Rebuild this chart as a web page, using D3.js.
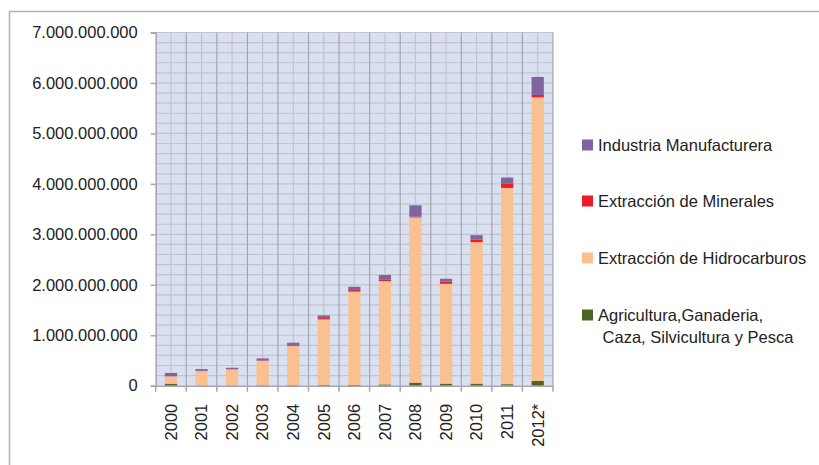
<!DOCTYPE html>
<html>
<head>
<meta charset="utf-8">
<script src="https://cdn.jsdelivr.net/npm/d3@7"></script>
<style>
    body { margin: 0; background: #fff; }
    text { font-family: "Liberation Sans", Arial, sans-serif; fill: #222; }
</style>
</head>
<body>
<div id="chart"></div>
<script>
// values in millions
var years = ["2000", "2001", "2002", "2003", "2004", "2005", "2006", "2007", "2008", "2009", "2010", "2011", "2012*"];
var agricultura   = [40, 5, 5, 8, 10, 15, 15, 25, 60, 40, 40, 30, 93];
var hidrocarburos = [145, 285, 320, 485, 775, 1300, 1850, 2050, 3275, 1980, 2805, 3890, 5623];
var minerales     = [3, 5, 5, 8, 15, 25, 30, 33, 15, 46, 53, 80, 46];
var manufacturera = [65, 35, 25, 40, 53, 53, 66, 86, 225, 53, 86, 125, 357];

var seriesKeys = ["agricultura", "hidrocarburos", "minerales", "manufacturera"];
var seriesColor = {
    agricultura: "#4f6228",
    hidrocarburos: "#fac090",
    minerales: "#ee1c25",
    manufacturera: "#8064a2"
};
var legendItems = [
    { key: "manufacturera", lines: ["Industria Manufacturera"] },
    { key: "minerales", lines: ["Extracción de Minerales"] },
    { key: "hidrocarburos", lines: ["Extracción de Hidrocarburos"] },
    { key: "agricultura", lines: ["Agricultura,Ganaderia,", " Caza, Silvicultura y Pesca"] }
];

var width = 819, height = 465;
var plotLeft = 155.7, plotRight = 553, plotTop = 32.5, plotBottom = 385.7;

var rows = years.map(function (y, i) {
    return {
        year: y,
        agricultura: agricultura[i] * 1e6,
        hidrocarburos: hidrocarburos[i] * 1e6,
        minerales: minerales[i] * 1e6,
        manufacturera: manufacturera[i] * 1e6
    };
});

var svg = d3.select("#chart").append("svg")
    .attr("width", width)
    .attr("height", height);

// outer frame
svg.append("path")
    .attr("d", "M9.5," + height + "V11.5H" + width)
    .attr("fill", "none")
    .attr("stroke", "#b4b4b4")
    .attr("stroke-width", 1.5);

var x = d3.scaleBand().domain(years).range([plotLeft, plotRight]).padding(0);
var y = d3.scaleLinear().domain([0, 7e9]).range([plotBottom, plotTop]);

var locale = d3.formatLocale({ decimal: ",", thousands: ".", grouping: [3], currency: ["", ""] });
var fmt = locale.format(",");

// plot background
svg.append("rect")
    .attr("x", plotLeft).attr("y", plotTop)
    .attr("width", plotRight - plotLeft).attr("height", plotBottom - plotTop)
    .attr("fill", "#d8e0f1");

// horizontal grid
svg.append("g").selectAll("line")
    .data(d3.range(2e8, 7e9 + 1, 2e8))
    .enter().append("line")
    .attr("x1", plotLeft).attr("x2", plotRight)
    .attr("y1", function (d) { return y(d); })
    .attr("y2", function (d) { return y(d); })
    .attr("stroke", "#c2c4cb")
    .attr("stroke-width", 1.2);

// minor vertical grid at category centers
svg.append("g").selectAll("line")
    .data(years)
    .enter().append("line")
    .attr("x1", function (d) { return x(d) + x.bandwidth() / 2; })
    .attr("x2", function (d) { return x(d) + x.bandwidth() / 2; })
    .attr("y1", plotTop).attr("y2", plotBottom)
    .attr("stroke", "#c2c4cb")
    .attr("stroke-width", 1.2);

// major vertical grid at category boundaries
svg.append("g").selectAll("line")
    .data(d3.range(1, years.length + 1))
    .enter().append("line")
    .attr("x1", function (d) { return plotLeft + x.step() * d; })
    .attr("x2", function (d) { return plotLeft + x.step() * d; })
    .attr("y1", plotTop).attr("y2", plotBottom)
    .attr("stroke", "#a4a6ae")
    .attr("stroke-width", 1.2);

// stacked bars
var stack = d3.stack().keys(seriesKeys);
var layers = stack(rows);
var barW = x.bandwidth() * 0.4;

svg.append("g").selectAll("g")
    .data(layers)
    .enter().append("g")
    .attr("fill", function (d) { return seriesColor[d.key]; })
    .selectAll("rect")
    .data(function (d) { return d; })
    .enter().append("rect")
    .attr("x", function (d) { return x(d.data.year) + (x.bandwidth() - barW) / 2; })
    .attr("width", barW)
    .attr("y", function (d) { return y(d[1]); })
    .attr("height", function (d) { return y(d[0]) - y(d[1]); });

// y axis
var yAxis = svg.append("g")
    .attr("transform", "translate(" + plotLeft + ",0)")
    .call(d3.axisLeft(y).tickValues(d3.range(0, 7e9 + 1, 1e9)).tickFormat(fmt).tickSize(5).tickPadding(13));
yAxis.select(".domain").attr("stroke", "#a4a6ae").attr("stroke-width", 1.5);
yAxis.selectAll(".tick line").attr("stroke", "#a4a6ae").attr("stroke-width", 1.5);
yAxis.selectAll("text").style("font-size", "16.5px").attr("fill", "#222");

// x axis
var xAxis = svg.append("g")
    .attr("transform", "translate(0," + plotBottom + ")")
    .call(d3.axisBottom(x).tickSize(0).tickPadding(0));
xAxis.select(".domain").attr("stroke", "#a4a6ae").attr("stroke-width", 1.5);
xAxis.selectAll("text")
    .style("font-size", "16.5px")
    .attr("fill", "#222")
    .attr("text-anchor", "end")
    .attr("transform", "translate(0,18) rotate(-90)")
    .attr("x", 0)
    .attr("dy", "0.35em")
    .attr("y", 0);

// boundary ticks below x axis
svg.append("g").selectAll("line")
    .data(d3.range(years.length + 1))
    .enter().append("line")
    .attr("x1", function (d) { return plotLeft + x.step() * d; })
    .attr("x2", function (d) { return plotLeft + x.step() * d; })
    .attr("y1", plotBottom).attr("y2", plotBottom + 6)
    .attr("stroke", "#a4a6ae")
    .attr("stroke-width", 1.5);

// legend
var legendY = [145, 201, 258, 315];
var legend = svg.append("g").selectAll("g")
    .data(legendItems)
    .enter().append("g")
    .attr("transform", function (d, i) { return "translate(582," + legendY[i] + ")"; });

legend.append("rect")
    .attr("x", 0).attr("y", -5.5)
    .attr("width", 11).attr("height", 11)
    .attr("fill", function (d) { return seriesColor[d.key]; });

legend.each(function (d) {
    var g = d3.select(this);
    d.lines.forEach(function (line, j) {
        g.append("text")
            .attr("x", 16)
            .attr("y", j * 22)
            .attr("dy", "0.35em")
            .style("font-size", "16.5px")
            .style("white-space", "pre")
            .text(line);
    });
});
</script>
</body>
</html>
